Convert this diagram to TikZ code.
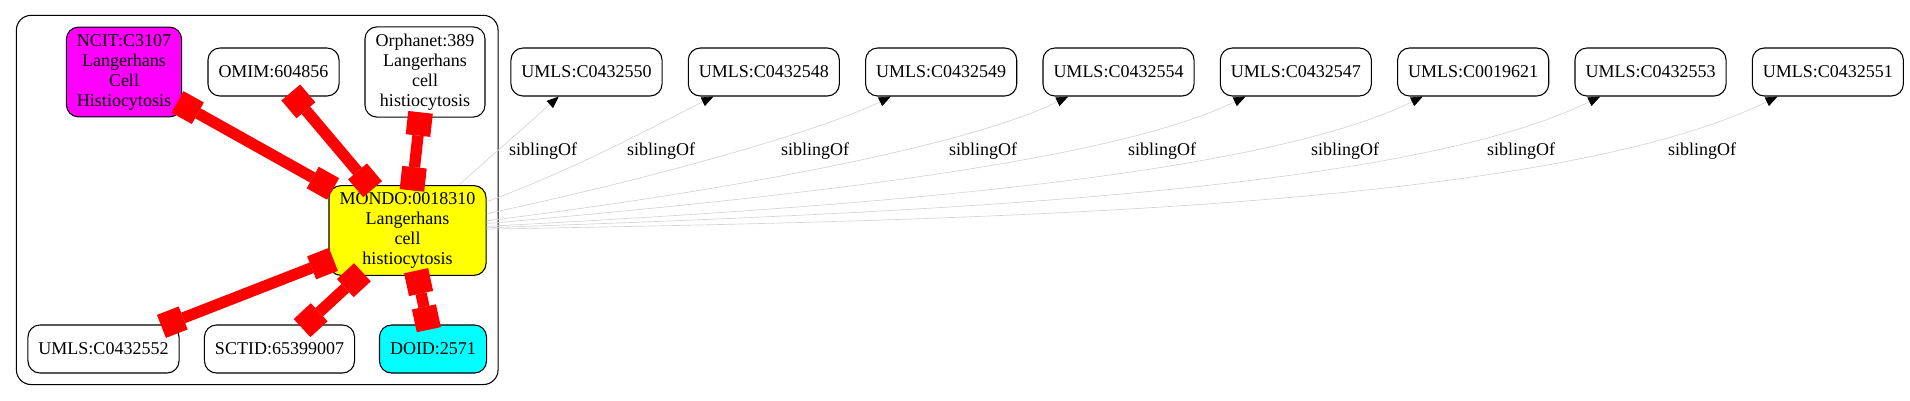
\documentclass[tikz,border=0pt]{standalone}
\usepackage{fontspec}
\setmainfont{Liberation Serif}
\usetikzlibrary{arrows.meta}
\usetikzlibrary{positioning}
\usetikzlibrary{fit}
\definecolor{ncitfill}{RGB}{255,0,255}
\definecolor{mondofill}{RGB}{255,255,0}
\definecolor{doidfill}{RGB}{0,255,255}
\definecolor{xrefred}{RGB}{255,0,0}

\begin{document}
\begin{tikzpicture}[x=0.75pt,y=-0.75pt,node distance=133pt,font=\fontsize{13.5}{15}\selectfont,
  term/.style={draw,line width=0.8pt,rounded corners=9pt,align=center,inner xsep=7.9pt,inner ysep=5.2pt,minimum height=36pt},
  grp/.style={draw,line width=0.8pt,rounded corners=11pt,inner sep=8.25pt},
  xref/.style={draw=xrefred,line width=8.5pt,>={Square[length=17.5pt,width=18.5pt,line width=0pt]},<->,shorten <=-4pt,shorten >=-4pt},
  sib/.style={draw=black!17,line width=0.5pt,>={Triangle[length=9pt,width=7pt,color=black]},->},
  lbl/.style={inner sep=0pt}]
\useasboundingbox (0,0) rectangle (1910,400);
\node[term,fill=ncitfill] (ncit) at (124,72) {NCIT:C3107\\Langerhans\\Cell\\Histiocytosis};
\node[term] (omim) at (273.5,72) {OMIM:604856};
\node[term] (orpha) at (425,72) {Orphanet:389\\Langerhans\\cell\\histiocytosis};
\node[term,fill=mondofill] (mondo) at (407.5,230.5) {MONDO:0018310\\Langerhans\\cell\\histiocytosis};
\node[term] (ub) at (103.5,349) {UMLS:C0432552};
\node[term] (sctid) at (279.5,349) {SCTID:65399007};
\node[term,fill=doidfill] (doid) at (433,349) {DOID:2571};
\node[grp,fit=(ncit)(omim)(orpha)(mondo)(ub)(sctid)(doid)] (cluster) {};

\node[term] (u1) at (586.5,72) {UMLS:C0432550};
\node[term] (u2) [right of = u1] {UMLS:C0432548};
\node[term] (u3) [right of = u2] {UMLS:C0432549};
\node[term] (u4) [right of = u3] {UMLS:C0432554};
\node[term] (u5) [right of = u4] {UMLS:C0432547};
\node[term] (u6) [right of = u5] {UMLS:C0019621};
\node[term] (u7) [right of = u6] {UMLS:C0432553};
\node[term] (u8) [right of = u7] {UMLS:C0432551};

\draw[xref] (ncit) -- (mondo);
\draw[xref] (omim) -- (mondo);
\draw[xref] (orpha) -- (mondo);
\draw[xref] (mondo) -- (ub);
\draw[xref] (mondo) -- (sctid);
\draw[xref] (mondo) -- (doid);

\draw[sib] (mondo) -- (u1);
\node[lbl] (s1) at (543,151) {siblingOf};
\foreach \i/\a/\lx in {2/20/661,3/12/815,4/7/983,5/5/1162,6/3/1345,7/2/1521,8/1/1702}{
  \draw[sib] (mondo) to[out=\a,in=206,in looseness=0.5] (u\i);
  \node[lbl] (s\i) at (\lx,151) {siblingOf};
}
\end{tikzpicture}
\end{document}
